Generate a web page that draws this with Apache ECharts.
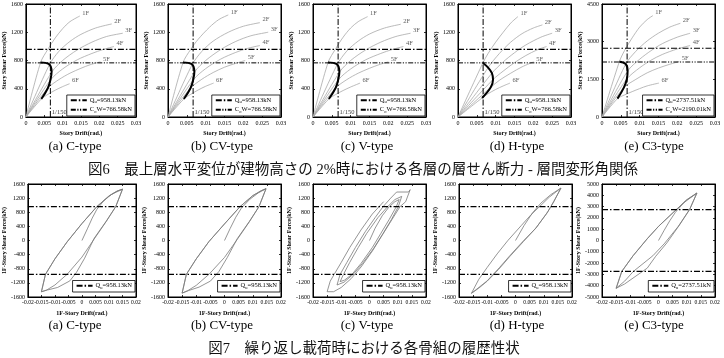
<!DOCTYPE html>
<html>
<head>
<meta charset="utf-8">
<script src="https://cdn.jsdelivr.net/npm/echarts@6/dist/echarts.min.js"></script>
<style>
html,body{margin:0;padding:0;background:#fff;}
#main{width:724px;height:358px;}
</style>
</head>
<body>
<div id="main"></div>
<script>
// ---- data ----
var panelLabels = ['(a) C-type', '(b) CV-type', '(c) V-type', '(d) H-type', '(e) C3-type'];
var floorNames = ['1F', '2F', '3F', '4F', '5F', '6F'];
var quValues = [958.13, 958.13, 958.13, 958.13, 2737.51];
var cowValues = [766.58, 766.58, 766.58, 766.58, 2190.01];
var drift150 = 1 / 150;
var title6 = '図6　最上層水平変位が建物高さの 2%時における各層の層せん断力 - 層間変形角関係';
var title7 = '図7　繰り返し載荷時における各骨組の履歴性状';

// story shear - story drift curves (図6)
var floorsC = [
  [[0,0],[0.004,772],[0.006,960],[0.008,1120],[0.010,1250],[0.012,1350],[0.0147,1430]],
  [[0,0],[0.0064,740],[0.009,930],[0.012,1070],[0.015,1170],[0.019,1260],[0.0234,1318]],
  [[0,0],[0.0071,640],[0.010,800],[0.014,950],[0.018,1060],[0.022,1140],[0.0264,1186]],
  [[0,0],[0.0068,530],[0.010,680],[0.014,810],[0.018,900],[0.021,955],[0.024,998]],
  [[0,0],[0.006,410],[0.009,530],[0.012,620],[0.015,690],[0.0175,740],[0.0203,781]],
  [[0,0],[0.0042,255],[0.006,320],[0.008,380],[0.010,430],[0.0119,471]]
];
var floorsCV = [
  [[0,0],[0.004,772],[0.006,955],[0.008,1100],[0.011,1270],[0.0135,1380],[0.016,1445]],
  [[0,0],[0.0064,740],[0.009,930],[0.012,1075],[0.016,1200],[0.020,1285],[0.0244,1336]],
  [[0,0],[0.0071,640],[0.010,800],[0.014,955],[0.018,1070],[0.022,1150],[0.0266,1200]],
  [[0,0],[0.0068,530],[0.010,685],[0.014,820],[0.018,915],[0.021,970],[0.0244,1012]],
  [[0,0],[0.006,410],[0.009,535],[0.012,630],[0.015,705],[0.018,760],[0.0205,800]],
  [[0,0],[0.0042,255],[0.006,320],[0.008,382],[0.010,435],[0.0121,480]]
];
var floorsV = [
  [[0,0],[0.004,772],[0.006,965],[0.008,1130],[0.010,1260],[0.012,1350],[0.0145,1421]],
  [[0,0],[0.0064,740],[0.009,935],[0.012,1075],[0.015,1175],[0.019,1260],[0.0233,1313]],
  [[0,0],[0.0071,640],[0.010,800],[0.014,950],[0.018,1060],[0.022,1140],[0.0259,1186]],
  [[0,0],[0.0068,530],[0.010,680],[0.014,810],[0.018,900],[0.021,955],[0.024,998]],
  [[0,0],[0.006,410],[0.009,530],[0.012,620],[0.015,690],[0.0175,740],[0.020,781]],
  [[0,0],[0.0042,255],[0.006,318],[0.008,375],[0.010,425],[0.0125,480]]
];
var floorsH = [
  [[0,0],[0.0066,765],[0.008,900],[0.010,1060],[0.012,1200],[0.014,1330],[0.0159,1421]],
  [[0,0],[0.008,700],[0.011,900],[0.014,1060],[0.017,1180],[0.020,1260],[0.0224,1304]],
  [[0,0],[0.009,620],[0.012,780],[0.015,910],[0.018,1020],[0.022,1130],[0.025,1186]],
  [[0,0],[0.0093,530],[0.012,650],[0.015,770],[0.018,870],[0.021,950],[0.0235,998]],
  [[0,0],[0.0087,420],[0.011,520],[0.014,620],[0.017,710],[0.0201,781]],
  [[0,0],[0.0064,270],[0.008,330],[0.010,390],[0.012,440],[0.0138,480]]
];
var floorsC3 = [
  [[0,0],[0.0046,2200],[0.006,2650],[0.008,3150],[0.010,3580],[0.012,3880],[0.0135,4037]],
  [[0,0],[0.0063,2110],[0.009,2620],[0.012,3030],[0.015,3340],[0.018,3580],[0.0208,3732]],
  [[0,0],[0.0068,1830],[0.010,2300],[0.013,2640],[0.016,2920],[0.020,3180],[0.0234,3335]],
  [[0,0],[0.0066,1515],[0.010,1960],[0.013,2260],[0.016,2490],[0.020,2710],[0.0234,2846]],
  [[0,0],[0.0058,1170],[0.009,1500],[0.012,1760],[0.015,1950],[0.018,2100],[0.0205,2210]],
  [[0,0],[0.0041,730],[0.006,880],[0.008,1010],[0.010,1130],[0.012,1240],[0.0151,1350]]
];
// thick line: state of each floor (1F..6F)
var lociC = [[0.004,772],[0.0062,752],[0.007,640],[0.0067,530],[0.006,410],[0.0042,255]];
var lociCV = [[0.004,772],[0.0062,752],[0.007,640],[0.0067,530],[0.006,410],[0.0042,255]];
var lociV = [[0.004,772],[0.0062,752],[0.007,640],[0.0067,530],[0.006,410],[0.0042,255]];
var lociH = [[0.0066,765],[0.008,700],[0.009,620],[0.0093,530],[0.0087,420],[0.0064,270]];
var lociC3 = [[0.0046,2200],[0.0063,2110],[0.0068,1830],[0.0066,1515],[0.0058,1170],[0.0041,730]];

// 1F hysteresis (図7)
var hystC = [[0,0],[0.002,330],[0.0038,634],[0.0055,880],[0.008,1120],[0.011,1310],[0.015,1450],
  [0.0125,958],[0.009,550],[0.0045,60],[0.001,-500],[-0.002,-900],[-0.0045,-1145],[-0.009,-1330],[-0.0127,-1400],[-0.015,-1450],
  [-0.0135,-958],[-0.010,-520],[-0.0055,-40],[0,480],[0.0055,958],[0.010,1260],[0.013,1400],[0.015,1455],
  [0.0125,958],[0.009,540],[0.0045,40],[0,-470],[-0.0055,-958],[-0.010,-1260],[-0.013,-1400],[-0.015,-1455],
  [-0.0135,-958],[-0.010,-520],[-0.0055,-40],[0,480],[0.0055,958],[0.010,1260],[0.013,1400],[0.015,1455]];
var hystCV = [[0,0],[0.002,340],[0.004,660],[0.006,920],[0.009,1170],[0.012,1350],[0.0147,1467],
  [0.0122,958],[0.0088,540],[0.0045,50],[0.001,-480],[-0.002,-880],[-0.005,-1150],[-0.009,-1320],[-0.0128,-1420],[-0.015,-1490],
  [-0.0135,-958],[-0.010,-520],[-0.0055,-30],[0,470],[0.0055,958],[0.010,1270],[0.013,1410],[0.0147,1467],
  [0.0122,958],[0.0088,530],[0.0045,30],[0,-480],[-0.0055,-958],[-0.010,-1270],[-0.013,-1420],[-0.015,-1490],
  [-0.0135,-958],[-0.010,-520],[-0.0055,-30],[0,470],[0.0055,958],[0.010,1270],[0.013,1410],[0.0147,1467]];
var hystV = [[0,0],[0.002,350],[0.0045,700],[0.007,958],[0.009,1100],[0.0105,1160],
  [0.0095,958],[0.007,600],[0.004,200],[0.001,-200],[-0.003,-650],[-0.0062,-958],[-0.0088,-1120],[-0.0104,-1165],
  [-0.0092,-958],[-0.007,-620],[-0.004,-200],[-0.001,200],[0.003,650],[0.0064,958],[0.009,1160],[0.0114,1250],
  [0.0102,958],[0.0078,600],[0.0048,200],[0.0015,-220],[-0.0025,-650],[-0.0058,-958],[-0.009,-1180],[-0.0115,-1260],
  [-0.0104,-958],[-0.008,-620],[-0.005,-200],[-0.0015,250],[0.002,650],[0.0048,958],[0.0075,1200],[0.0096,1373],[0.0138,1373],[0.0144,1440],
  [0.0128,1100],[0.0108,958],[0.008,600],[0.0045,150],[0.001,-300],[-0.003,-750],[-0.0065,-1080],[-0.010,-1330],[-0.0127,-1450],[-0.015,-1450],
  [-0.0139,-1150],[-0.0125,-958],[-0.010,-620],[-0.007,-200],[-0.003,300],[0.001,750],[0.005,1100]];
var hystH = [[0,0],[0.003,420],[0.006,780],[0.009,1060],[0.0125,1300],[0.0161,1486],
  [0.0135,1100],[0.0115,820],[0.0075,380],[0.0028,-30],[-0.002,-450],[-0.006,-820],[-0.010,-1150],[-0.013,-1350],[-0.0156,-1496],
  [-0.013,-1100],[-0.010,-760],[-0.0065,-380],[-0.0027,0],[0.002,420],[0.0055,730],[0.0085,958],[0.012,1230],[0.0161,1486],
  [0.0135,1090],[0.011,760],[0.007,330],[0.0028,-10],[-0.002,-430],[-0.0056,-760],[-0.010,-1140],[-0.0156,-1496]];
var hystC3 = [[0,0],[0.002,900],[0.004,1750],[0.006,2500],[0.009,3350],[0.0136,4200],
  [0.011,2737],[0.0075,1400],[0.003,-200],[-0.001,-1400],[-0.004,-2450],[-0.0083,-3200],[-0.012,-3850],[-0.015,-4230],
  [-0.013,-2737],[-0.009,-1350],[-0.004,150],[0,1250],[0.0063,2737],[0.010,3600],[0.0136,4200],
  [0.011,2737],[0.007,1250],[0.002,-300],[-0.002,-1350],[-0.0089,-2737],[-0.012,-3600],[-0.015,-4230],
  [-0.013,-2737],[-0.009,-1350],[-0.004,150],[0,1250],[0.0063,2737],[0.010,3600],[0.0136,4200]];

var floorSets = [floorsC, floorsCV, floorsV, floorsH, floorsC3];
var lociSets = [lociC, lociCV, lociV, lociH, lociC3];
var hystSets = [hystC, hystCV, hystV, hystH, hystC3];
var shearRangeTop = [[0,1600,400],[0,1600,400],[0,1600,400],[0,1600,400],[0,4500,1500]];
var shearRangeBottom = [[-1600,1600,400],[-1600,1600,400],[-1600,1600,400],[-1600,1600,400],[-5000,5000,1000]];

// ---- layout ----
var serif = "'Liberation Serif', 'Noto Sans CJK JP', serif";
var topLefts = [23, 168, 313, 458, 602];
var bottomLefts = [23, 168, 313, 459, 602];
var captionX = [75, 222, 367, 517, 654];
var plotW = 113, plotH = 113;
var topRowY = 4, bottomRowY = 184;
var dashQu = [6, 2, 1.5, 2];
var dashCow = [5, 1.5, 1.2, 1.5, 1.2, 1.5];

var grids = [], xAxes = [], yAxes = [], series = [], legends = [], graphics = [];

function plainNumber(v) {
    return String(v);
}

function addPanel(left, top, xr, yr, xName, yName, xFont) {
    var g = grids.length;
    grids.push({left: left, top: top, width: plotW, height: plotH, show: true,
        borderColor: '#000', borderWidth: 1, backgroundColor: 'rgba(0,0,0,0)'});
    var tick = {show: true, inside: true, length: 2, lineStyle: {color: '#000', width: 0.8}};
    var line = {show: true, onZero: false, lineStyle: {color: '#000', width: 1}};
    var yLabel = {fontFamily: serif, fontSize: 6, color: '#000', margin: 3, formatter: plainNumber,
        showMinLabel: true, showMaxLabel: true, hideOverlap: false};
    var xLabel = {fontFamily: serif, fontSize: xFont, color: '#000', margin: 3, formatter: plainNumber,
        showMinLabel: true, showMaxLabel: true, hideOverlap: false};
    var nameStyle = {fontFamily: serif, fontSize: 6, fontWeight: 'bold', color: '#000'};
    var xi = xAxes.length, yi = yAxes.length;
    xAxes.push({type: 'value', gridIndex: g, position: 'bottom', min: xr[0], max: xr[1], interval: xr[2],
        name: xName, nameLocation: 'middle', nameGap: 13, nameTextStyle: nameStyle,
        axisLine: line, axisTick: tick, axisLabel: xLabel, splitLine: {show: false}});
    xAxes.push({type: 'value', gridIndex: g, position: 'top', min: xr[0], max: xr[1], interval: xr[2],
        axisLine: line, axisTick: tick, axisLabel: {show: false}, splitLine: {show: false}});
    yAxes.push({type: 'value', gridIndex: g, position: 'left', min: yr[0], max: yr[1], interval: yr[2],
        name: yName, nameLocation: 'middle', nameGap: 16, nameTextStyle: nameStyle,
        axisLine: line, axisTick: tick, axisLabel: yLabel, splitLine: {show: false}});
    yAxes.push({type: 'value', gridIndex: g, position: 'right', min: yr[0], max: yr[1], interval: yr[2],
        axisLine: line, axisTick: tick, axisLabel: {show: false}, splitLine: {show: false}});
    return {x: xi, y: yi};
}

function flatLine(name, xIdx, yIdx, data, dash, width) {
    return {type: 'line', name: name, xAxisIndex: xIdx, yAxisIndex: yIdx, data: data,
        symbol: 'none', silent: true, z: 4, color: '#000', itemStyle: {color: '#000'},
        lineStyle: {color: '#000', width: width, type: dash}};
}

function legendFormatter(name) {
    return name.replace(/^Qu/, 'Q{sub|u}').replace(/^CoW/, 'C{sub|o}W');
}
function legendBox(names, right, bottom) {
    return {data: names, orient: 'vertical', right: right, bottom: bottom,
        itemWidth: 16, itemHeight: 6, itemGap: 2, padding: [2, 3, 2, 3],
        borderColor: '#000', borderWidth: 0.8, backgroundColor: '#fff', selectedMode: false,
        itemStyle: {color: 'rgba(0,0,0,0)', borderWidth: 0, opacity: 0},
        lineStyle: {color: '#000'},
        formatter: legendFormatter,
        textStyle: {fontFamily: serif, fontSize: 6.5, color: '#000', padding: [0, 0, 0, -2],
            rich: {sub: {fontFamily: serif, fontSize: 4.5, color: '#000', verticalAlign: 'bottom', padding: [4, 0, 0, 0]}}}};
}

// ---- 図6 panels ----
for (var p = 0; p < 5; p++) {
    var ax = addPanel(topLefts[p], topRowY, [0, 0.03, 0.005], shearRangeTop[p],
        'Story Drift(rad.)', 'Story Shear Force(kN)', 6);
    var floors = floorSets[p];
    var ends = [];
    for (var i = 0; i < floors.length; i++) {
        series.push({type: 'line', name: 'f' + p + floorNames[i], xAxisIndex: ax.x, yAxisIndex: ax.y,
            data: floors[i], smooth: 0.3, symbol: 'none', silent: true, z: 2,
            lineStyle: {color: '#a8a8a8', width: 0.8}});
        ends.push({value: floors[i][floors[i].length - 1], name: floorNames[i]});
    }
    series.push({type: 'scatter', name: 'lab' + p, xAxisIndex: ax.x, yAxisIndex: ax.y, data: ends,
        symbolSize: 1, itemStyle: {color: 'rgba(0,0,0,0)'}, silent: true,
        label: {show: true, position: 'right', distance: 2, offset: [0, -3], formatter: '{b}',
            fontFamily: serif, fontSize: 6.5, color: '#333'}});
    series.push({type: 'line', name: 'locus' + p, xAxisIndex: ax.x, yAxisIndex: ax.y, data: lociSets[p],
        smooth: 0.4, symbol: 'none', silent: true, z: 5, lineStyle: {color: '#000', width: 2}});
    var ymax = shearRangeTop[p][1];
    var quName = 'Qu=' + quValues[p].toFixed(2) + 'kN';
    var cowName = 'CoW=' + cowValues[p].toFixed(2) + 'kN';
    series.push(flatLine(quName, ax.x, ax.y, [[0, quValues[p]], [0.03, quValues[p]]], dashQu, 1.2));
    series.push(flatLine(cowName, ax.x, ax.y, [[0, cowValues[p]], [0.03, cowValues[p]]], dashCow, 1));
    series.push(flatLine('v150_' + p, ax.x, ax.y, [[drift150, 0], [drift150, ymax]], dashQu, 1));
    series.push({type: 'scatter', name: 'lab150_' + p, xAxisIndex: ax.x, yAxisIndex: ax.y,
        data: [{value: [drift150, 0], name: '1/150'}], symbolSize: 1, itemStyle: {color: 'rgba(0,0,0,0)'},
        silent: true, label: {show: true, position: 'right', distance: 1, offset: [0, -5], formatter: '{b}',
            fontFamily: serif, fontSize: 6.5, color: '#000'}});
    legends.push(legendBox([quName, cowName], 724 - (topLefts[p] + plotW) + 1, 358 - (topRowY + plotH) + 1));
    graphics.push({type: 'text', x: captionX[p], y: 147,
        style: {text: panelLabels[p], fontFamily: serif, fontSize: 13, fill: '#000',
            align: 'center', verticalAlign: 'middle', textAlign: 'center', textVerticalAlign: 'middle'}});
}

// ---- 図7 panels ----
for (var q = 0; q < 5; q++) {
    var bx = addPanel(bottomLefts[q], bottomRowY, [-0.02, 0.02, 0.005], shearRangeBottom[q],
        '1F-Story Drift(rad.)', '1F-Story Shear Force(kN)', 5.6);
    series.push({type: 'line', name: 'hyst' + q, xAxisIndex: bx.x, yAxisIndex: bx.y, data: hystSets[q],
        symbol: 'none', silent: true, z: 2, lineStyle: {color: '#7a7a7a', width: 0.8}});
    var qn = 'Qu=' + quValues[q].toFixed(2) + 'kN';
    series.push(flatLine(qn, bx.x, bx.y, [[-0.02, quValues[q]], [0.02, quValues[q]]], dashQu, 1.2));
    series.push(flatLine(qn, bx.x, bx.y, [[-0.02, -quValues[q]], [0.02, -quValues[q]]], dashQu, 1.2));
    legends.push(legendBox([qn], 724 - (bottomLefts[q] + plotW) + 1, 358 - (bottomRowY + plotH) + 5));
    graphics.push({type: 'text', x: captionX[q], y: 326,
        style: {text: panelLabels[q], fontFamily: serif, fontSize: 13, fill: '#000',
            align: 'center', verticalAlign: 'middle', textAlign: 'center', textVerticalAlign: 'middle'}});
}

graphics.push({type: 'text', x: 363, y: 170,
    style: {text: title6, fontFamily: serif, fontSize: 14.5, fill: '#111',
        align: 'center', verticalAlign: 'middle', textAlign: 'center', textVerticalAlign: 'middle'}});
graphics.push({type: 'text', x: 364, y: 349,
    style: {text: title7, fontFamily: serif, fontSize: 14.5, fill: '#111',
        align: 'center', verticalAlign: 'middle', textAlign: 'center', textVerticalAlign: 'middle'}});

var myChart = echarts.init(document.getElementById('main'));
var option = {
    animation: false,
    backgroundColor: '#fff',
    grid: grids,
    xAxis: xAxes,
    yAxis: yAxes,
    legend: legends,
    graphic: graphics,
    series: series
};
myChart.setOption(option);
</script>
</body>
</html>
